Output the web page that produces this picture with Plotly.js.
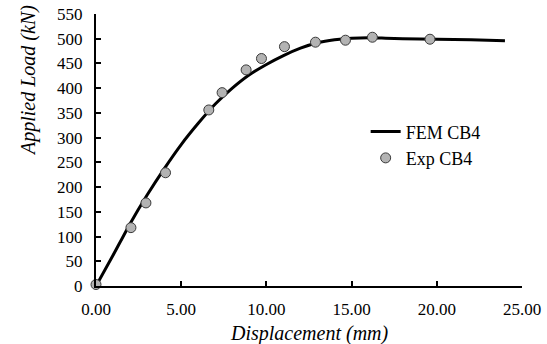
<!DOCTYPE html>
<html>
<head>
<meta charset="utf-8">
<script src="https://cdn.plot.ly/plotly-3.0.1.min.js"></script>
<style>html,body{margin:0;padding:0;background:#fff;}#chart{width:547px;height:344px;}</style>
</head>
<body>
<div id="chart"></div>
<script>
// FEM curve (displacement mm, load kN)
var femX = [0, 1, 2, 3, 4, 5, 6, 7, 8, 9, 10, 11, 12, 13, 14, 15, 16, 17, 18, 20, 22, 24];
var femY = [0, 62, 126, 184, 237, 286, 329, 368, 400, 427, 448, 466, 481, 492, 498, 501, 502, 501, 500, 499, 498, 496];
// Experimental points
var expX = [0, 2.05, 2.93, 4.08, 6.62, 7.40, 8.81, 9.71, 11.06, 12.88, 14.64, 16.22, 19.60];
var expY = [3, 118, 168, 229, 356, 391, 437, 460, 484, 493, 497, 503, 499];
var xTicks = [0, 5, 10, 15, 20, 25];
var yTicks = [0, 50, 100, 150, 200, 250, 300, 350, 400, 450, 500, 550];
var xTitle = 'Displacement (mm)';
var yTitle = 'Applied Load (kN)';

var font = "Liberation Serif";

var traces = [
  {x: femX, y: femY, type: 'scatter', mode: 'lines', name: 'FEM CB4',
   line: {color: '#000', width: 3, shape: 'spline', smoothing: 0.5}, legendgroup: 'a'},
  {x: expX, y: expY, type: 'scatter', mode: 'markers', name: 'Exp CB4', cliponaxis: false,
   marker: {color: '#b3b3b3', size: 10, line: {color: '#3a3a3a', width: 1}}, legendgroup: 'b'}
];

var layout = {
  width: 547, height: 344,
  margin: {l: 96, r: 25, t: 14, b: 58},
  paper_bgcolor: '#fff', plot_bgcolor: '#fff',
  font: {family: font, color: '#000', size: 17},
  showlegend: true,
  legend: {x: 0.633, y: 0.635, xanchor: 'left', yanchor: 'top', bgcolor: 'rgba(0,0,0,0)',
           font: {family: font, size: 18, color: '#000'}, traceorder: 'grouped', tracegroupgap: 0},
  xaxis: {range: [0, 25], tickvals: xTicks, ticktext: xTicks.map(function(v){return v.toFixed(2);}),
          ticks: 'inside', ticklen: 5, tickwidth: 2, tickcolor: '#000',
          tickfont: {family: font, size: 17, color: '#000'},
          showline: true, linewidth: 2, linecolor: '#000', showgrid: false, zeroline: false,
          ticklabelstandoff: 7},
  yaxis: {range: [0, 550], tickvals: yTicks,
          ticks: 'inside', ticklen: 5, tickwidth: 2, tickcolor: '#000',
          tickfont: {family: font, size: 17, color: '#000'},
          showline: true, linewidth: 2, linecolor: '#000', showgrid: false, zeroline: false,
          ticklabelstandoff: 8},
  annotations: [
    {text: '<i>' + xTitle + '</i>', xref: 'paper', yref: 'paper', x: 0.5, y: -0.176,
     xanchor: 'center', yanchor: 'middle', showarrow: false,
     font: {family: font, size: 20, color: '#000'}},
    {text: '<i>' + yTitle + '</i>', xref: 'paper', yref: 'paper', x: -0.157, y: 0.754,
     xanchor: 'center', yanchor: 'middle', showarrow: false, textangle: -90,
     font: {family: font, size: 20, color: '#000'}}
  ]
};

Plotly.newPlot('chart', traces, layout, {displayModeBar: false, staticPlot: true});
</script>
</body>
</html>
